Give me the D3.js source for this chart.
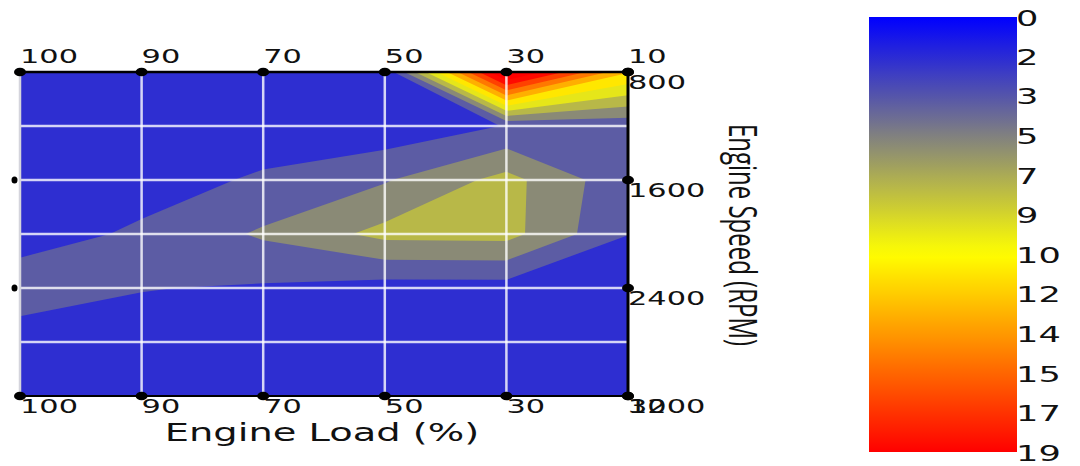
<!DOCTYPE html>
<html>
<head>
<meta charset="utf-8">
<script src="https://cdn.jsdelivr.net/npm/d3@7"></script>
<style>
  body { margin: 0; background: #fff; }
</style>
</head>
<body>
<div id="chart-area"></div>
<script>
// engine load columns (%) and engine speed rows (rpm)
var loads = [100, 90, 70, 50, 30, 10];
var speeds = [800, 1200, 1600, 2000, 2400, 2800, 3200];

// value at each speed, one entry per load column (100 ... 10)
var rpm800  = [0.9, 0.9, 0.9, 0.3, 20.0, 10.5];
var rpm1200 = [0.9, 0.9, 0.9, 0.5, 1.8, 2.2];
var rpm1600 = [1.0, 1.1, 1.93, 3.3, 5.78, 2.2];
var rpm2000 = [1.05, 1.97, 3.7, 5.7, 5.8, 1.75];
var rpm2400 = [2.6, 1.8, 1.54, 1.0, 1.0, 0.9];
var rpm2800 = [0.93, 0.9, 0.9, 0.8, 0.8, 0.8];
var rpm3200 = [0.8, 0.8, 0.8, 0.7, 0.7, 0.7];

// contour levels and the labels printed on the colour bar
var levels = [0, 1.73, 3.45, 5.18, 6.91, 8.64, 10.36, 12.09, 13.82, 15.55, 17.27, 19];
var levelLabels = ["0", "2", "3", "5", "7", "9", "10", "12", "14", "15", "17", "19"];

// labelled speeds on the right axis, small marks on the left
var speedTicks = [800, 1600, 2400, 3200];
var leftMarks = [1600, 2400];

var svg = d3.select("#chart-area")
  .append("svg")
    .attr("width", 1080)
    .attr("height", 466);

// scales
var x = d3.scalePoint().domain(loads).range([20, 628]);
var y = d3.scaleLinear().domain([800, 3200]).range([72, 396]);
// grid index -> pixel, used for the contour geometry
var xi = d3.scaleLinear().domain([0, loads.length - 1]).range(x.range());
var yi = d3.scaleLinear().domain([0, speeds.length - 1]).range(y.range());

var color = d3.scaleLinear()
  .domain([0, levels[3], levels[6], 19])
  .range(["#0000ff", "#808080", "#ffff00", "#ff0000"])
  .clamp(true);

// stretched text, the original picture is wider than it is tall
function addText(parent, tx, ty, str, size, anchor, family, rot) {
  return parent.append("text")
    .attr("transform", "translate(" + tx + "," + ty + ") scale(1.6,1)" + (rot ? " rotate(90)" : ""))
    .attr("text-anchor", anchor)
    .attr("font-family", family)
    .attr("font-size", size + "px")
    .attr("fill", "#111")
    .text(str);
}

// contour bands
svg.append("clipPath").attr("id", "plot-clip")
  .append("rect")
    .attr("x", 20).attr("y", 72)
    .attr("width", 608).attr("height", 324);

var grid = [rpm800, rpm1200, rpm1600, rpm2000, rpm2400, rpm2800, rpm3200];
var values = [].concat.apply([], grid);

var contours = d3.contours()
  .size([loads.length, speeds.length])
  .thresholds(levels.slice(0, -1))(values);

var proj = d3.geoTransform({
  point: function(px, py) { this.stream.point(xi(px - 0.5), yi(py - 0.5)); }
});
var path = d3.geoPath(proj);

svg.append("g")
    .attr("clip-path", "url(#plot-clip)")
  .selectAll("path")
  .data(contours)
  .enter()
  .append("path")
    .attr("d", path)
    .attr("fill", function(d, i) { return color(levels[i + 1] * 1.08); });

// grid lines
var gridG = svg.append("g");
gridG.selectAll(".vgrid")
  .data(loads.slice(1, -1))
  .enter().append("line")
    .attr("x1", function(d) { return x(d); })
    .attr("x2", function(d) { return x(d); })
    .attr("y1", 72).attr("y2", 396)
    .attr("stroke", "#fff").attr("stroke-opacity", 0.8).attr("stroke-width", 2.5);
gridG.selectAll(".hgrid")
  .data(speeds.slice(1, -1))
  .enter().append("line")
    .attr("x1", 20).attr("x2", 628)
    .attr("y1", function(d) { return y(d); })
    .attr("y2", function(d) { return y(d); })
    .attr("stroke", "#fff").attr("stroke-opacity", 0.8).attr("stroke-width", 2.5);
gridG.append("line")
  .attr("x1", 20).attr("x2", 20).attr("y1", 72).attr("y2", 396)
  .attr("stroke", "#d4d4dc").attr("stroke-width", 2.5);

// tick labels
loads.forEach(function(l) {
  addText(svg, x(l), 63, l, 19, "start", "DejaVu Sans");
  addText(svg, x(l), 413, l, 19, "start", "DejaVu Sans");
});
speedTicks.forEach(function(s) {
  addText(svg, 628, y(s) + 17, s, 19, "start", "DejaVu Sans");
});

// axis frame
svg.append("line").attr("x1", 20).attr("x2", 628).attr("y1", 72).attr("y2", 72)
  .attr("stroke", "#000").attr("stroke-width", 2.5);
svg.append("line").attr("x1", 20).attr("x2", 628).attr("y1", 396).attr("y2", 396)
  .attr("stroke", "#000").attr("stroke-width", 2);
svg.append("line").attr("x1", 628).attr("x2", 628).attr("y1", 72).attr("y2", 396)
  .attr("stroke", "#000").attr("stroke-width", 3);

// tick dots
var dots = svg.append("g").attr("fill", "#000");
loads.forEach(function(l) {
  dots.append("ellipse").attr("cx", x(l)).attr("cy", 72).attr("rx", 6).attr("ry", 4.3);
  dots.append("ellipse").attr("cx", x(l)).attr("cy", 396).attr("rx", 6).attr("ry", 4.3);
});
speedTicks.forEach(function(s) {
  dots.append("ellipse").attr("cx", 628).attr("cy", y(s)).attr("rx", 6).attr("ry", 4.3);
});
leftMarks.forEach(function(s) {
  dots.append("ellipse").attr("cx", 14.5).attr("cy", y(s)).attr("rx", 3).attr("ry", 3.5);
});

// axis titles
addText(svg, 322, 441, "Engine Load (%)", 24, "middle", "DejaVu Sans");
addText(svg, 729, 235, "Engine Speed (RPM)", 24, "middle", "Open Sans", true);

// colour bar
var cb = d3.scaleLinear().domain([0, 19]).range([17, 452]);
var grad = svg.append("defs").append("linearGradient")
  .attr("id", "cbar").attr("x1", 0).attr("x2", 0).attr("y1", 0).attr("y2", 1);
d3.range(0, 19.01, 0.5).forEach(function(v) {
  grad.append("stop").attr("offset", v / 19).attr("stop-color", color(v));
});
svg.append("rect")
  .attr("x", 869).attr("y", cb(0))
  .attr("width", 148).attr("height", cb(19) - cb(0))
  .attr("fill", "url(#cbar)");

levels.forEach(function(v, i) {
  addText(svg, 1016, cb(v) + 8.5, levelLabels[i], 22, "start", "DejaVu Sans");
});
</script>
</body>
</html>
